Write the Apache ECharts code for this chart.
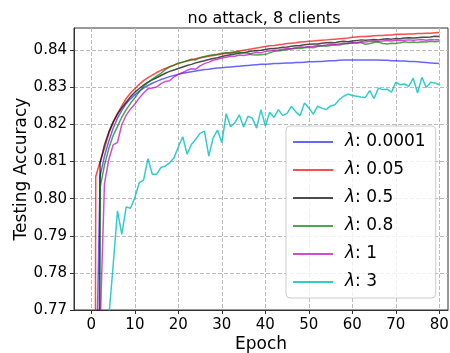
<!DOCTYPE html>
<html>
<head>
<meta charset="utf-8">
<script src="https://cdn.jsdelivr.net/npm/echarts@6/dist/echarts.min.js"></script>
<style>
  html, body { margin: 0; padding: 0; background: #fff; }
  #main { width: 450px; height: 353px; }
</style>
</head>
<body>
<div id="main"></div>
<script>
// epochs and tick labels
var epochs = [0, 1, 2, 3, 4, 5, 6, 7, 8, 9, 10, 11, 12, 13, 14, 15, 16, 17, 18, 19, 20,
  21, 22, 23, 24, 25, 26, 27, 28, 29, 30, 31, 32, 33, 34, 35, 36, 37, 38, 39, 40,
  41, 42, 43, 44, 45, 46, 47, 48, 49, 50, 51, 52, 53, 54, 55, 56, 57, 58, 59, 60,
  61, 62, 63, 64, 65, 66, 67, 68, 69, 70, 71, 72, 73, 74, 75, 76, 77, 78, 79, 80];
var xTicks = [0, 10, 20, 30, 40, 50, 60, 70, 80];
var yTicks = [0.77, 0.78, 0.79, 0.80, 0.81, 0.82, 0.83, 0.84];

// testing accuracy per lambda
var acc0001 = [0.30, 0.745, 0.806, 0.8115, 0.8155, 0.819, 0.8217, 0.8238, 0.8256, 0.8269, 0.828,
  0.829, 0.8298, 0.8305, 0.8311, 0.8316, 0.8321, 0.8325, 0.8329, 0.8332, 0.8335,
  0.8338, 0.834, 0.8342, 0.8344, 0.8346, 0.8348, 0.8349, 0.8351, 0.8352, 0.8353,
  0.8354, 0.8355, 0.8356, 0.8357, 0.8358, 0.8359, 0.836, 0.8361, 0.8362, 0.8362,
  0.8363, 0.8364, 0.8364, 0.8365, 0.8366, 0.8366, 0.8367, 0.8367, 0.8368, 0.8369,
  0.8369, 0.837, 0.837, 0.8371, 0.8372, 0.8372, 0.8373, 0.8374, 0.8374, 0.8374,
  0.8374, 0.8374, 0.8374, 0.8374, 0.8374, 0.8374, 0.8373, 0.8373, 0.8372, 0.8372,
  0.8371, 0.8371, 0.837, 0.837, 0.8369, 0.8368, 0.8367, 0.8366, 0.8365, 0.8364];
var acc005 = [0.30, 0.806, 0.810, 0.8135, 0.8175, 0.8205, 0.823, 0.825, 0.827, 0.8285, 0.8297,
  0.8308, 0.8318, 0.8326, 0.8333, 0.834, 0.8346, 0.8351, 0.8356, 0.836, 0.8364,
  0.8368, 0.8371, 0.8374, 0.8377, 0.838, 0.8382, 0.8384, 0.8386, 0.8388, 0.839,
  0.8392, 0.8394, 0.8396, 0.8398, 0.84, 0.8402, 0.8404, 0.8406, 0.8408, 0.841,
  0.8412, 0.8413, 0.8415, 0.8416, 0.8418, 0.8419, 0.842, 0.8422, 0.8423, 0.8424,
  0.8425, 0.8426, 0.8427, 0.8428, 0.8429, 0.843, 0.8431, 0.8432, 0.8433, 0.8435,
  0.8436, 0.8437, 0.8437, 0.8438, 0.8439, 0.844, 0.844, 0.8441, 0.8441, 0.8443,
  0.8443, 0.8443, 0.8444, 0.8444, 0.8445, 0.8445, 0.8446, 0.8446, 0.8447, 0.8448];
var acc05 = [0.20, 0.50, 0.8095, 0.8145, 0.818, 0.8207, 0.8228, 0.8245, 0.826, 0.8275, 0.8287,
  0.8297, 0.8306, 0.8314, 0.832, 0.8326, 0.8332, 0.8338, 0.8343, 0.8347, 0.8351,
  0.8355, 0.8359, 0.8362, 0.8366, 0.8369, 0.8372, 0.8375, 0.8378, 0.838, 0.8383,
  0.8386, 0.8388, 0.839, 0.8392, 0.8393, 0.8396, 0.8398, 0.8399, 0.84, 0.8402,
  0.8404, 0.8405, 0.8406, 0.8408, 0.8409, 0.8411, 0.8412, 0.8413, 0.8415, 0.8416,
  0.8417, 0.8417, 0.8419, 0.842, 0.8421, 0.842, 0.8423, 0.8424, 0.8423, 0.8425,
  0.8426, 0.8428, 0.8427, 0.8428, 0.8429, 0.8428, 0.843, 0.8431, 0.843, 0.8432,
  0.8431, 0.8433, 0.8434, 0.8433, 0.8434, 0.8435, 0.8435, 0.8436, 0.8438, 0.8437];
var acc08 = [0.20, 0.45, 0.803, 0.809, 0.8135, 0.817, 0.8195, 0.822, 0.824, 0.8257, 0.8272,
  0.8288, 0.8302, 0.8313, 0.8322, 0.833, 0.8338, 0.8348, 0.8355, 0.836, 0.8366,
  0.8368, 0.8372, 0.8376, 0.8374, 0.838, 0.8383, 0.8386, 0.8388, 0.8389, 0.8392,
  0.8393, 0.8392, 0.8394, 0.8395, 0.8393, 0.8392, 0.8388, 0.8387, 0.8388, 0.8389,
  0.8393, 0.8397, 0.8398, 0.84, 0.8402, 0.8404, 0.8405, 0.8405, 0.8407, 0.8408,
  0.8407, 0.841, 0.8412, 0.8411, 0.8413, 0.8415, 0.8414, 0.8417, 0.8418, 0.842,
  0.8419, 0.8421, 0.8416, 0.8418, 0.8421, 0.8422, 0.8418, 0.8417, 0.8419, 0.8418,
  0.842, 0.8423, 0.8421, 0.8422, 0.8421, 0.8423, 0.8422, 0.8424, 0.8423, 0.8424];
var acc1 = [0.20, 0.40, 0.765, 0.804, 0.8105, 0.8145, 0.8152, 0.82, 0.8225, 0.8242, 0.8255,
  0.8271, 0.8285, 0.8296, 0.8298, 0.8301, 0.831, 0.8316, 0.8318, 0.8328, 0.8335,
  0.834, 0.8346, 0.835, 0.8349, 0.8358, 0.8364, 0.8368, 0.8373, 0.8376, 0.8379,
  0.8381, 0.8384, 0.8384, 0.8387, 0.8386, 0.8388, 0.8392, 0.8394, 0.8393, 0.8397,
  0.8398, 0.84, 0.8401, 0.8403, 0.8405, 0.8404, 0.8407, 0.8409, 0.8408, 0.841,
  0.8411, 0.8413, 0.8412, 0.8414, 0.8416, 0.8415, 0.8417, 0.8419, 0.8418, 0.842,
  0.8421, 0.8423, 0.8422, 0.8424, 0.8425, 0.8424, 0.8425, 0.8426, 0.8425, 0.8427,
  0.8426, 0.8427, 0.8428, 0.8427, 0.8428, 0.8429, 0.8427, 0.8429, 0.8428, 0.8428];
var acc3 = [0.30, 0.50, 0.62, 0.70, 0.768, 0.782, 0.7967, 0.7904, 0.7978, 0.7974, 0.8003,
  0.8043, 0.805, 0.8108, 0.8066, 0.8066, 0.8084, 0.8088, 0.8097, 0.811, 0.814,
  0.8167, 0.812, 0.8146, 0.816, 0.8176, 0.8182, 0.8115, 0.8164, 0.8185, 0.8151,
  0.8229, 0.8194, 0.8205, 0.8226, 0.8193, 0.8222, 0.8217, 0.819, 0.824, 0.8196,
  0.8233, 0.8219, 0.824, 0.8224, 0.823, 0.8249, 0.8234, 0.8224, 0.8258, 0.8245,
  0.8228, 0.8249, 0.8244, 0.824, 0.825, 0.8253, 0.8267, 0.8276, 0.8282, 0.8278,
  0.8276, 0.8274, 0.8273, 0.8291, 0.827, 0.8298, 0.8294, 0.8295, 0.8287, 0.8314,
  0.8307, 0.8309, 0.8303, 0.8325, 0.8285, 0.8327, 0.83, 0.8314, 0.8312, 0.8307];

var names = ['0.0001', '0.05', '0.5', '0.8', '1', '3'];
var values = [acc0001, acc005, acc05, acc08, acc1, acc3];
var colors = ['rgba(0,0,255,0.6)', 'rgba(255,0,0,0.7)', 'rgba(0,0,0,0.7)',
  'rgba(0,128,0,0.7)', 'rgba(191,0,191,0.7)', 'rgba(0,191,191,0.8)'];

var font = 'DejaVu Sans';

var series = names.map(function (n, i) {
  return {
    name: n,
    type: 'line',
    symbol: 'none',
    clip: true,
    color: colors[i],
    lineStyle: { width: 1.5, color: colors[i] },
    data: epochs.map(function (e, k) { return [e, values[i][k]]; })
  };
});

var myChart = echarts.init(document.getElementById('main'), null, { renderer: 'canvas' });
myChart.setOption({
  animation: false,
  backgroundColor: '#fff',
  title: {
    text: 'no attack, 8 clients',
    left: 259,
    top: 6,
    textAlign: 'center',
    textStyle: { fontFamily: font, fontSize: 16, fontWeight: 'normal', color: '#000' }
  },
  grid: {
    left: 74, right: 2, top: 28, bottom: 43,
    outerBoundsMode: 'none',
    containLabel: false,
    show: true, borderColor: '#333', borderWidth: 1, backgroundColor: 'transparent'
  },
  legend: {
    orient: 'vertical',
    left: 286,
    top: 126,
    padding: [6, 10, 6, 7],
    icon: 'rect',
    itemWidth: 40,
    itemHeight: 2,
    itemGap: 8,
    backgroundColor: 'rgba(255,255,255,0.8)',
    borderColor: '#ccc',
    borderWidth: 1,
    borderRadius: 4,
    data: names,
    formatter: function (n) { return '{i|λ}: ' + n; },
    textStyle: {
      fontFamily: font, fontSize: 17, lineHeight: 20, color: '#000', padding: [0, 0, 0, 7],
      rich: { i: { fontFamily: font, fontSize: 17, lineHeight: 20, fontStyle: 'italic', color: '#000' } }
    }
  },
  xAxis: {
    type: 'value',
    min: -4,
    max: 82,
    splitNumber: 8,
    name: 'Epoch',
    nameLocation: 'middle',
    nameGap: 26,
    nameMoveOverlap: false,
    nameTextStyle: { fontFamily: font, fontSize: 17, color: '#000' },
    axisLine: { onZero: false, lineStyle: { color: '#333', width: 1 } },
    axisTick: { show: true, length: 4, inside: false, customValues: xTicks, lineStyle: { color: '#333' } },
    axisLabel: { customValues: xTicks, fontFamily: font, fontSize: 15, color: '#000', margin: 8 },
    splitLine: { show: true, lineStyle: { color: '#bbb', type: [4, 2], width: 1 } }
  },
  yAxis: {
    type: 'value',
    min: 0.77,
    max: 0.846,
    interval: 0.01,
    name: 'Testing Accuracy',
    nameLocation: 'middle',
    nameGap: 44,
    nameMoveOverlap: false,
    nameTextStyle: { fontFamily: font, fontSize: 17, color: '#000' },
    axisLine: { onZero: false, lineStyle: { color: '#333', width: 1 } },
    axisTick: { show: true, length: 4, inside: false, customValues: yTicks, lineStyle: { color: '#333' } },
    axisLabel: {
      customValues: yTicks, fontFamily: font, fontSize: 15, color: '#000', margin: 7,
      formatter: function (v) { return v.toFixed(2); }
    },
    splitLine: { show: true, lineStyle: { color: '#bbb', type: [4, 2], width: 1 } }
  },
  series: series
});
</script>
</body>
</html>
